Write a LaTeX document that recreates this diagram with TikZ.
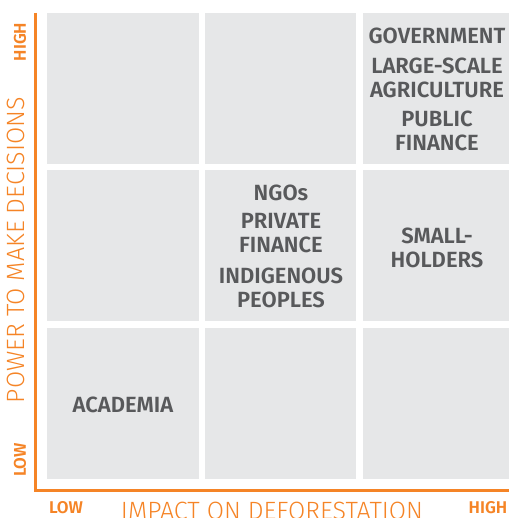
\documentclass[tikz,border=0pt]{standalone}
\usepackage{fontspec}
\setmainfont{Fira Sans}
\newfontfamily\semi{Fira Sans SemiBold}
\newfontfamily\light{Fira Sans Light}
\definecolor{orng}{RGB}{245,132,38}
\definecolor{cellgray}{RGB}{230,231,232}
\definecolor{txtgray}{RGB}{88,89,91}
\tikzset{
  cell/.style={fill=cellgray, draw=none, minimum width=#1, minimum height=151pt, inner sep=0pt, anchor=north west},
  lbl/.style={text=txtgray, font=\semi\fontsize{22}{24.5}\selectfont, align=center, inner sep=0pt},
  axistitle/.style={text=orng, font=\light\fontsize{25}{28}\selectfont, inner sep=0pt},
  axisend/.style={text=orng, font=\semi\fontsize{17}{19}\selectfont, inner sep=0pt},
  axisline/.style={draw=orng, line width=3pt}
}
\begin{document}
\begin{tikzpicture}[x=1pt,y=-1pt]
\useasboundingbox (0,0) rectangle (509,518);
% cells
\node[cell=152pt] (c11) at (47,13) {};
\node[cell=151pt] (c21) at (205,13) {};
\node[cell=146pt] (c31) at (363,13) {};
\node[cell=152pt] (c12) at (47,170) {};
\node[cell=151pt] (c22) at (205,170) {};
\node[cell=146pt] (c32) at (363,170) {};
\node[cell=152pt] (c13) at (47,328) {};
\node[cell=151pt] (c23) at (205,328) {};
\node[cell=146pt] (c33) at (363,328) {};
% axes
\coordinate (top) at (35,13);
\coordinate (corner) at (35,490);
\coordinate (right) at (509,490);
\draw[axisline] (top) -- (corner) -- (right);
% cell labels
\node[lbl] (gov) at (437,36) {GOVERNMENT};
\node[lbl] (agri) at (437,78) {LARGE-SCALE\\AGRICULTURE};
\node[lbl] (pub) at (437,131) {PUBLIC\\FINANCE};
\node[lbl] (ngo) at (281,193) {NGOs};
\node[lbl] (priv) at (281,233) {PRIVATE\\FINANCE};
\node[lbl] (indig) at (281,288) {INDIGENOUS\\PEOPLES};
\node[lbl] (small) at (437,248) {SMALL-\\HOLDERS};
\node[lbl] (acad) at (123,405) {ACADEMIA};
% axis labels
\node[axistitle, rotate=90] (ytitle) at (16,250) {POWER TO MAKE DECISIONS};
\node[axisend, rotate=90] (yhigh) at (20,42) {HIGH};
\node[axisend, rotate=90] (ylow) at (20,460) {LOW};
\node[axistitle] (xtitle) at (272,511) {IMPACT ON DEFORESTATION};
\node[axisend] (xlow) at (66,508) {LOW};
\node[axisend] (xhigh) at (488,508) {HIGH};
\end{tikzpicture}
\end{document}
